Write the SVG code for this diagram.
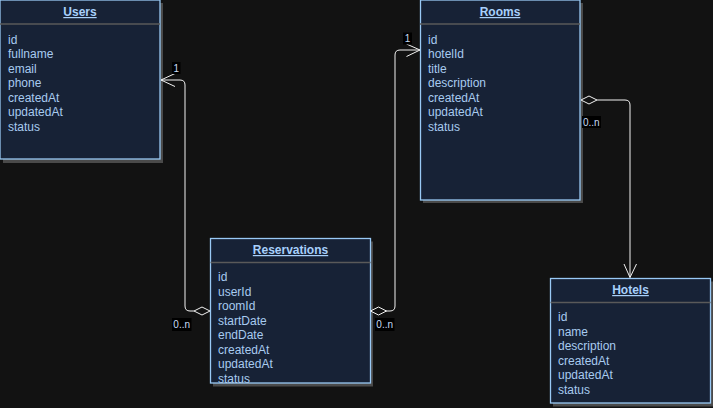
<svg xmlns="http://www.w3.org/2000/svg" width="713" height="408" viewBox="0 0 713 408">
<style>
.bg{fill:#121212}
.shadow{fill:#4a4a4a}
.box{fill:#172236;stroke:#99c9f5;stroke-width:1.3}
.sep{stroke:#5a5a5a;stroke-width:1.5}
.title{font-family:"Liberation Sans",Arial,sans-serif;font-size:12px;font-weight:bold;fill:#a8d0fb;text-anchor:middle;text-decoration:underline}
.field{font-family:"Liberation Sans",Arial,sans-serif;font-size:12px;fill:#a8cbf0}
.conn{fill:none;stroke:#f2f2f2;stroke-width:1}
.dia{fill:#121212;stroke:#f2f2f2;stroke-width:1}
.lblbg{fill:#000}
.lbl{font-family:"Liberation Sans",Arial,sans-serif;font-size:10px;fill:#c8dcf5;text-anchor:middle}
</style>
<rect class="bg" x="0" y="0" width="713" height="408"/>

<g id="users">
<rect class="shadow" x="3" y="3" width="160" height="160"/>
<rect class="box" x="0" y="0" width="160" height="159"/>
<line class="sep" x1="0" y1="24" x2="160" y2="24"/>
<text class="title" x="80" y="16">Users</text>
<text class="field" x="8" y="43.5">id</text>
<text class="field" x="8" y="58">fullname</text>
<text class="field" x="8" y="72.5">email</text>
<text class="field" x="8" y="87">phone</text>
<text class="field" x="8" y="101.5">createdAt</text>
<text class="field" x="8" y="116">updatedAt</text>
<text class="field" x="8" y="130.5">status</text>
</g>

<g id="rooms">
<rect class="shadow" x="423" y="3" width="160" height="200"/>
<rect class="box" x="420.5" y="0" width="159.5" height="200"/>
<line class="sep" x1="420" y1="24" x2="580" y2="24"/>
<text class="title" x="500" y="16">Rooms</text>
<text class="field" x="428" y="43.5">id</text>
<text class="field" x="428" y="58">hotelId</text>
<text class="field" x="428" y="72.5">title</text>
<text class="field" x="428" y="87">description</text>
<text class="field" x="428" y="101.5">createdAt</text>
<text class="field" x="428" y="116">updatedAt</text>
<text class="field" x="428" y="130.5">status</text>
</g>

<g id="reservations">
<rect class="shadow" x="213" y="241.5" width="160" height="145"/>
<rect class="box" x="210.5" y="238.5" width="160" height="144.5"/>
<line class="sep" x1="210.5" y1="262.5" x2="370.5" y2="262.5"/>
<text class="title" x="290.5" y="254">Reservations</text>
<text class="field" x="218" y="281">id</text>
<text class="field" x="218" y="295.5">userId</text>
<text class="field" x="218" y="310">roomId</text>
<text class="field" x="218" y="324.5">startDate</text>
<text class="field" x="218" y="339">endDate</text>
<text class="field" x="218" y="353.5">createdAt</text>
<text class="field" x="218" y="368">updatedAt</text>
<text class="field" x="218" y="382.5">status</text>
</g>

<g id="hotels">
<rect class="shadow" x="553" y="281.5" width="160" height="125"/>
<rect class="box" x="550.5" y="278.5" width="160" height="124.5"/>
<line class="sep" x1="550.5" y1="302.5" x2="710.5" y2="302.5"/>
<text class="title" x="630.5" y="294">Hotels</text>
<text class="field" x="558" y="321">id</text>
<text class="field" x="558" y="335.5">name</text>
<text class="field" x="558" y="350">description</text>
<text class="field" x="558" y="364.5">createdAt</text>
<text class="field" x="558" y="379">updatedAt</text>
<text class="field" x="558" y="393.5">status</text>
</g>

<g id="connectors">
<path class="conn" d="M194,311 L190,311 Q185,311 185,306 L185,85 Q185,80 180,80 L161,80"/>
<path class="conn" d="M175,73.5 L161,80 L175,86.5"/>
<polygon class="dia" points="210,311 202,307 194,311 202,315"/>
<rect class="lblbg" x="172" y="62" width="8.5" height="12"/>
<text class="lbl" x="176.2" y="71.5">1</text>
<rect class="lblbg" x="172" y="318" width="19.5" height="13"/>
<text class="lbl" x="181.7" y="327.8">0..n</text>

<path class="conn" d="M386,311 L390,311 Q395,311 395,306 L395,55 Q395,50 400,50 L420,50"/>
<path class="conn" d="M406.5,44 L420,50 L406.5,56.5"/>
<polygon class="dia" points="370.5,311 378.5,307 386.5,311 378.5,315"/>
<rect class="lblbg" x="403" y="32.5" width="9" height="12"/>
<text class="lbl" x="407.5" y="42">1</text>
<rect class="lblbg" x="375" y="318" width="19.5" height="13"/>
<text class="lbl" x="384.7" y="327.8">0..n</text>

<path class="conn" d="M597,100 L625,100 Q630,100 630,105 L630,277.5"/>
<path class="conn" d="M624,264 L630,277.5 L636.5,264"/>
<polygon class="dia" points="581,100 589,96 597,100 589,104"/>
<rect class="lblbg" x="582" y="116" width="19" height="12"/>
<text class="lbl" x="591.3" y="125.5">0..n</text>
</g>
</svg>
